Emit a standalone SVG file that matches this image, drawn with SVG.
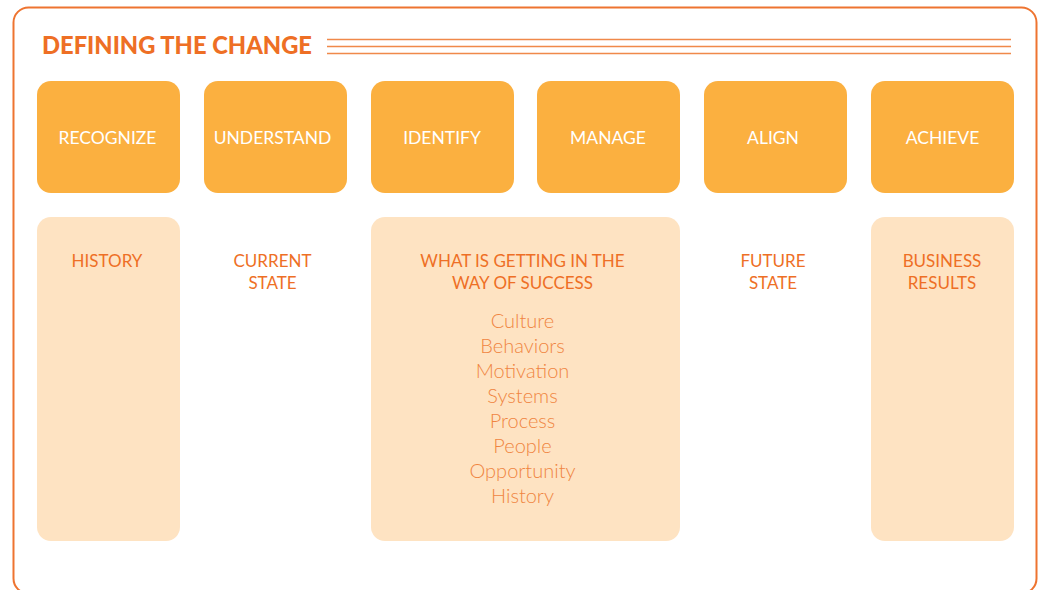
<svg xmlns="http://www.w3.org/2000/svg" width="1039" height="590" viewBox="0 0 1039 590">
  <style>
    .frame { fill: #ffffff; stroke: #EE7430; stroke-width: 2; }
    .rule { stroke: #F0894A; stroke-width: 1.6; }
    .title { font-family: Lato, "Liberation Sans", sans-serif; font-weight: 900; font-size: 24px; fill: #EE6F25; }
    .step { fill: #FBB040; }
    .step-label { font-family: Lato, "Liberation Sans", sans-serif; font-size: 17.5px; fill: #ffffff; text-anchor: middle; }
    .panel { fill: #FEE3C2; }
    .head { font-family: Lato, "Liberation Sans", sans-serif; font-size: 17px; fill: #EE6F25; text-anchor: middle; }
    .item { font-family: Lato, "Liberation Sans", sans-serif; font-weight: 300; font-size: 20px; fill: #F08541; text-anchor: middle; }
  </style>

  <!-- outer frame, bottom edge runs just past the canvas -->
  <rect class="frame" x="13.5" y="7.5" width="1023" height="586" rx="15"/>

  <!-- heading with triple rule -->
  <g id="heading">
    <text class="title" x="42" y="54" textLength="270" lengthAdjust="spacingAndGlyphs">DEFINING THE CHANGE</text>
    <line class="rule" x1="327" y1="39.5" x2="1011" y2="39.5"/>
    <line class="rule" x1="327" y1="46.5" x2="1011" y2="46.5"/>
    <line class="rule" x1="327" y1="53.5" x2="1011" y2="53.5"/>
  </g>

  <!-- step boxes -->
  <g id="step-recognize">
    <rect class="step" x="37" y="81" width="143" height="112" rx="14"/>
    <text class="step-label" x="107.5" y="144">RECOGNIZE</text>
  </g>
  <g id="step-understand">
    <rect class="step" x="204" y="81" width="143" height="112" rx="14"/>
    <text class="step-label" x="272.5" y="144">UNDERSTAND</text>
  </g>
  <g id="step-identify">
    <rect class="step" x="371" y="81" width="143" height="112" rx="14"/>
    <text class="step-label" x="442" y="144">IDENTIFY</text>
  </g>
  <g id="step-manage">
    <rect class="step" x="537" y="81" width="143" height="112" rx="14"/>
    <text class="step-label" x="608" y="144">MANAGE</text>
  </g>
  <g id="step-align">
    <rect class="step" x="704" y="81" width="143" height="112" rx="14"/>
    <text class="step-label" x="773" y="144">ALIGN</text>
  </g>
  <g id="step-achieve">
    <rect class="step" x="871" y="81" width="143" height="112" rx="14"/>
    <text class="step-label" x="942.5" y="144">ACHIEVE</text>
  </g>

  <!-- detail columns -->
  <g id="detail-history">
    <rect class="panel" x="37" y="217" width="143" height="324" rx="14"/>
    <text class="head" x="107" y="267">HISTORY</text>
  </g>
  <g id="detail-current">
    <text class="head" x="272.5" y="267">CURRENT</text>
    <text class="head" x="272.5" y="289">STATE</text>
  </g>
  <g id="detail-obstacles">
    <rect class="panel" x="371" y="217" width="309" height="324" rx="14"/>
    <text class="head" x="522.5" y="267">WHAT IS GETTING IN THE</text>
    <text class="head" x="522.5" y="289">WAY OF SUCCESS</text>
    <text class="item" x="522.5" y="328">Culture</text>
    <text class="item" x="522.5" y="353">Behaviors</text>
    <text class="item" x="522.5" y="378">Motivation</text>
    <text class="item" x="522.5" y="403">Systems</text>
    <text class="item" x="522.5" y="428">Process</text>
    <text class="item" x="522.5" y="453">People</text>
    <text class="item" x="522.5" y="478">Opportunity</text>
    <text class="item" x="522.5" y="503">History</text>
  </g>
  <g id="detail-future">
    <text class="head" x="773" y="267">FUTURE</text>
    <text class="head" x="773" y="289">STATE</text>
  </g>
  <g id="detail-results">
    <rect class="panel" x="871" y="217" width="143" height="324" rx="14"/>
    <text class="head" x="942" y="267">BUSINESS</text>
    <text class="head" x="942" y="289">RESULTS</text>
  </g>
</svg>
